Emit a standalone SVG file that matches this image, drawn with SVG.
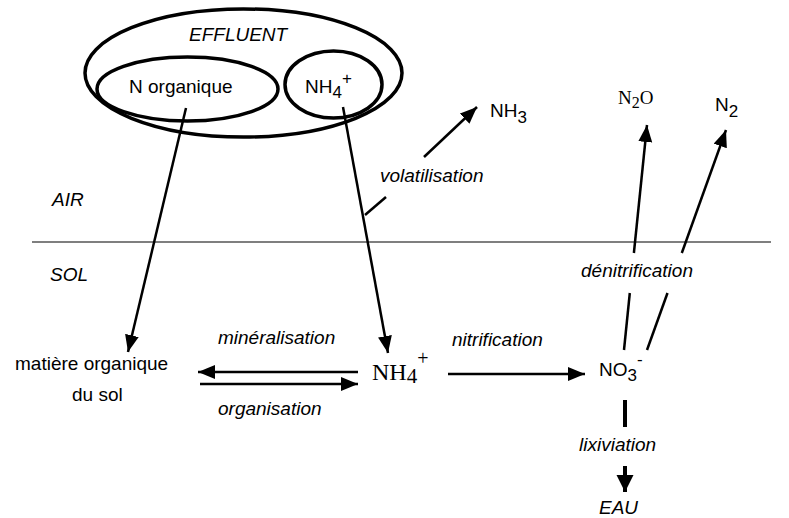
<svg xmlns="http://www.w3.org/2000/svg" width="789" height="518" viewBox="0 0 789 518">
<style>
  .t { font-family: "Liberation Sans", Arial, sans-serif; font-size: 19px; fill: #000; }
  .i { font-style: italic; }
  .s { font-family: "Liberation Serif", "Times New Roman", serif; fill: #000; }
  .ell { fill: none; stroke: #000; stroke-width: 3.5; }
  .ln { fill: none; stroke: #000; stroke-width: 2.5; }
  .arr { fill: none; stroke: #000; stroke-width: 2.5; marker-end: url(#ah); }
  .thick { fill: none; stroke: #000; stroke-width: 4; }
</style>
<defs>
  <marker id="ah" markerUnits="userSpaceOnUse" markerWidth="18" markerHeight="15" refX="17" refY="7" orient="auto">
    <path d="M0,0 L17,7 L0,14 z" fill="#000"/>
  </marker>
  <marker id="ah2" markerUnits="userSpaceOnUse" markerWidth="18" markerHeight="18" refX="17" refY="8.5" orient="auto">
    <path d="M0,0 L17,8.5 L0,17 z" fill="#000"/>
  </marker>
</defs>
<rect width="789" height="518" fill="#fff"/>

<g id="surface">
  <line x1="32" y1="242" x2="771" y2="242" stroke="#555" stroke-width="1.4"/>
  <text class="t i" x="52" y="206">AIR</text>
  <text class="t i" x="50" y="281">SOL</text>
</g>

<g id="effluent">
  <ellipse class="ell" cx="243.5" cy="73" rx="158.5" ry="64"/>
  <text class="t i" x="189" y="41">EFFLUENT</text>
</g>
<g id="n-organique">
  <ellipse class="ell" cx="187.5" cy="89" rx="90.5" ry="32"/>
  <text class="t" x="129" y="93">N organique</text>
</g>
<g id="nh4-effluent">
  <ellipse class="ell" cx="333.5" cy="84.5" rx="48.5" ry="33.5"/>
  <text class="t" x="305" y="93">NH<tspan font-size="17" dy="5">4</tspan><tspan font-size="17" dy="-14">+</tspan></text>
</g>
<g id="nh3">
  <text class="t" x="490" y="117">NH<tspan font-size="17" dy="6">3</tspan></text>
</g>
<g id="n2o">
  <text class="s" font-size="19" x="618" y="104">N<tspan font-size="16" dy="4">2</tspan><tspan dy="-4">O</tspan></text>
</g>
<g id="n2">
  <text class="t" x="715" y="111">N<tspan font-size="17" dy="6">2</tspan></text>
</g>
<g id="matiere-organique">
  <text class="t" x="15" y="370">matière organique</text>
  <text class="t" x="72" y="401">du sol</text>
</g>
<g id="nh4-sol">
  <text class="s" font-size="24" x="372" y="380">NH<tspan font-size="21" dy="3">4</tspan><tspan font-size="20" dy="-18">+</tspan></text>
</g>
<g id="no3">
  <text class="t" x="599" y="376">NO<tspan font-size="17" dy="5">3</tspan><tspan font-size="17" dy="-16">-</tspan></text>
</g>
<g id="eau">
  <text class="t i" x="599" y="514">EAU</text>
</g>

<g id="connectors">
  <line class="arr" x1="186" y1="108" x2="128" y2="352"/>
  <line class="arr" x1="343" y1="107" x2="388" y2="353"/>
  <line class="ln" x1="365" y1="215" x2="386" y2="197"/>
  <line class="arr" x1="424" y1="157" x2="477" y2="107"/>
  <text class="t i" x="380" y="182">volatilisation</text>

  <line class="arr" x1="358" y1="372" x2="198" y2="372"/>
  <line class="arr" x1="200" y1="384" x2="358" y2="384"/>
  <text class="t i" x="218" y="344">minéralisation</text>
  <text class="t i" x="218" y="415">organisation</text>

  <line class="arr" x1="448" y1="374" x2="585" y2="374"/>
  <text class="t i" x="452" y="346">nitrification</text>

  <line class="ln" x1="624" y1="350" x2="629.8" y2="293"/>
  <line class="arr" x1="633.9" y1="253" x2="647" y2="125"/>
  <line class="ln" x1="647" y1="350" x2="667.5" y2="293"/>
  <line class="arr" x1="681.8" y1="253" x2="726" y2="130"/>
  <text class="t i" x="581" y="277">dénitrification</text>

  <line class="thick" x1="625" y1="400" x2="625" y2="427"/>
  <line class="thick" x1="625" y1="466" x2="625" y2="492" marker-end="url(#ah2)"/>
  <text class="t i" x="579" y="451">lixiviation</text>
</g>
</svg>
